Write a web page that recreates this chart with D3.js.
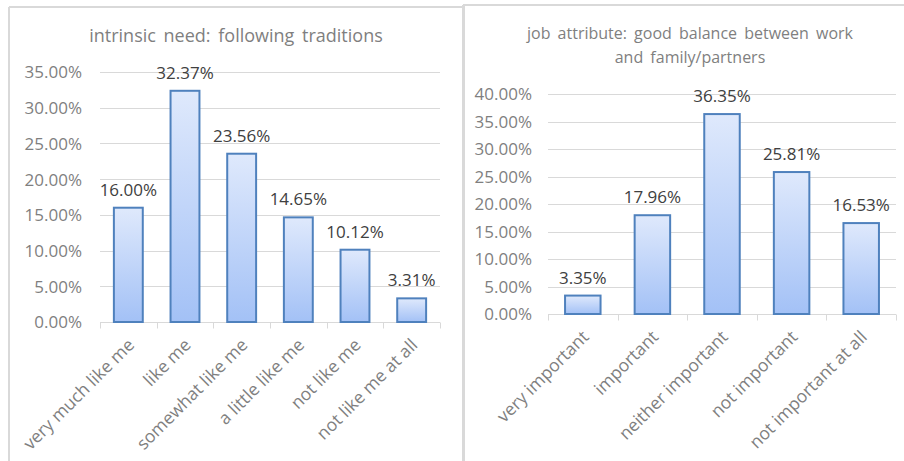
<!DOCTYPE html>
<html>
<head>
<meta charset="utf-8">
<script src="https://cdn.jsdelivr.net/npm/d3@7/dist/d3.min.js"></script>
<style>
  html, body { margin: 0; padding: 0; background: #fff; }
  svg { display: block; font-family: "Open Sans", "Noto Sans", sans-serif; }
</style>
</head>
<body>
<svg id="chart" width="904" height="461"></svg>
<script>
// Survey shares, one array per question
const traditionCategories = ["very much like me", "like me", "somewhat like me", "a little like me", "not like me", "not like me at all"];
const traditionValues = [0.16, 0.3237, 0.2356, 0.1465, 0.1012, 0.0331];
const traditionTicks = [0, 0.05, 0.10, 0.15, 0.20, 0.25, 0.30, 0.35];

const balanceCategories = ["very important", "important", "neither important", "not important", "not important at all"];
const balanceValues = [0.0335, 0.1796, 0.3635, 0.2581, 0.1653];
const balanceTicks = [0, 0.05, 0.10, 0.15, 0.20, 0.25, 0.30, 0.35, 0.40];

const svg = d3.select("#chart");
const pct = d3.format(".2%");

// Shared gradient for the bars: pale at the top, deeper blue at the base
const defs = svg.append("defs");
const grad = defs.append("linearGradient")
  .attr("id", "barFill").attr("x1", 0).attr("y1", 0).attr("x2", 0).attr("y2", 1);
grad.append("stop").attr("offset", "0%").attr("stop-color", "#dfe9fc");
grad.append("stop").attr("offset", "100%").attr("stop-color", "#a3c1f6");

// Panel frames
const frame = svg.append("g").attr("stroke", "#d9d9d9").attr("fill", "none");
frame.append("line").attr("x1", 9).attr("y1", 7).attr("x2", 463).attr("y2", 7).attr("stroke-width", 2);
frame.append("line").attr("x1", 9).attr("y1", 7).attr("x2", 9).attr("y2", 461).attr("stroke-width", 2);
frame.append("line").attr("x1", 463.5).attr("y1", 5).attr("x2", 463.5).attr("y2", 461).attr("stroke-width", 3);
frame.append("line").attr("x1", 463).attr("y1", 5).attr("x2", 904).attr("y2", 5).attr("stroke-width", 2);

function drawPanel(opts) {
  const { categories, values, ticks, xRange, yRange, yMax, titleLines, titleX, titleY, titleSize, labelX } = opts;
  const g = svg.append("g");

  const x = d3.scaleBand().domain(categories).range(xRange).paddingInner(0.49).paddingOuter(0.245);
  const y = d3.scaleLinear().domain([0, yMax]).range(yRange);

  // Title
  const title = g.append("text")
    .attr("x", titleX).attr("y", titleY)
    .attr("text-anchor", "middle")
    .attr("fill", "#7f7f7f")
    .style("font-size", titleSize + "px")
    .style("word-spacing", "3px");
  titleLines.forEach((line, i) => {
    title.append("tspan").attr("x", titleX).attr("dy", i === 0 ? 0 : 24).text(line);
  });

  // Horizontal gridlines
  g.append("g").selectAll("line").data(ticks.slice(1)).join("line")
    .attr("x1", xRange[0]).attr("x2", xRange[1])
    .attr("y1", d => Math.round(y(d)) + 0.5).attr("y2", d => Math.round(y(d)) + 0.5)
    .attr("stroke", "#d9d9d9").attr("stroke-width", 1);

  // Y axis labels
  const yAxis = d3.axisLeft(y).tickValues(ticks).tickFormat(pct).tickSize(0).tickPadding(0);
  const ya = g.append("g").attr("transform", `translate(${labelX},0)`).call(yAxis);
  ya.select(".domain").remove();
  ya.selectAll("text")
    .attr("fill", "#7f7f7f")
    .style("font-size", "17px")
    .style("font-family", "\"Open Sans\", sans-serif")
    .attr("dy", "0.35em");

  // X axis: baseline with category separators
  const base = Math.round(y(0)) + 0.5;
  const xa = g.append("g");
  xa.append("line").attr("x1", xRange[0]).attr("x2", xRange[1])
    .attr("y1", base).attr("y2", base).attr("stroke", "#d9d9d9");
  const bounds = categories.map(c => x(c) - x.step() * x.paddingInner() / 2).concat([xRange[1]]);
  xa.selectAll("line.sep").data(bounds).join("line").attr("class", "sep")
    .attr("x1", d => Math.round(d) + 0.5).attr("x2", d => Math.round(d) + 0.5)
    .attr("y1", base).attr("y2", base + 6)
    .attr("stroke", "#d9d9d9");

  // Bars
  g.append("g").selectAll("rect").data(values).join("rect")
    .attr("x", (d, i) => x(categories[i]))
    .attr("y", d => y(d))
    .attr("width", x.bandwidth())
    .attr("height", d => y(0) - y(d))
    .attr("fill", "url(#barFill)")
    .attr("stroke", "#4f81bd")
    .attr("stroke-width", 2);

  // Value labels
  g.append("g").selectAll("text").data(values).join("text")
    .attr("x", (d, i) => x(categories[i]) + x.bandwidth() / 2)
    .attr("y", d => y(d) - 12)
    .attr("text-anchor", "middle")
    .attr("fill", "#404040")
    .style("font-size", "17px")
    .text(d => pct(d));

  // Rotated category labels
  g.append("g").selectAll("text").data(categories).join("text")
    .attr("transform", c => `translate(${x(c) + x.bandwidth() / 2 + 7},${y(0) + 24}) rotate(-45)`)
    .attr("text-anchor", "end")
    .attr("fill", "#7f7f7f")
    .style("font-size", "17.5px")
    .text(c => c);
}

drawPanel({
  categories: traditionCategories,
  values: traditionValues,
  ticks: traditionTicks,
  xRange: [100, 440],
  yRange: [322, 72],
  yMax: 0.35,
  titleLines: ["intrinsic need: following traditions"],
  titleX: 236, titleY: 42, titleSize: 18,
  labelX: 82
});

drawPanel({
  categories: balanceCategories,
  values: balanceValues,
  ticks: balanceTicks,
  xRange: [548, 896],
  yRange: [314, 94],
  yMax: 0.40,
  titleLines: ["job attribute:  good balance  between  work", "and family/partners"],
  titleX: 690, titleY: 39, titleSize: 16,
  labelX: 532
});
</script>
</body>
</html>
